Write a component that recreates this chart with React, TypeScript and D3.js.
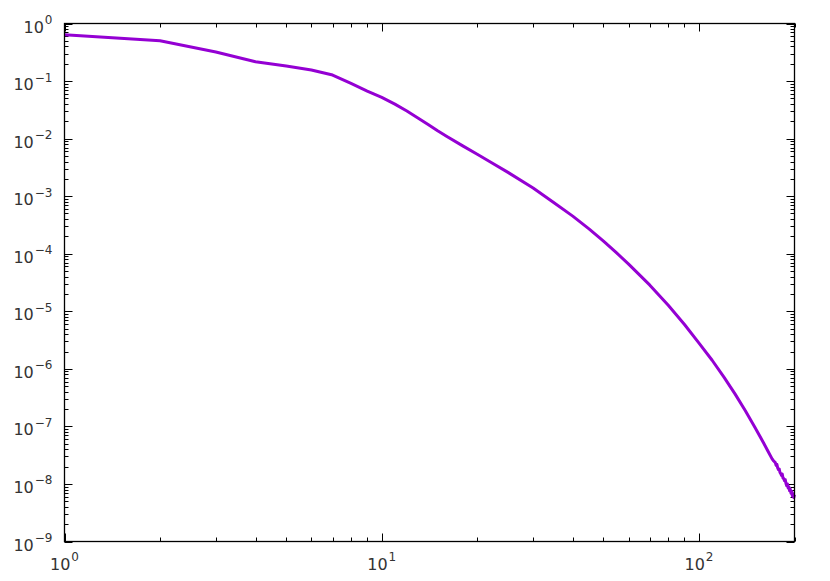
import React, { useEffect, useRef } from 'react';
import * as d3 from 'd3';

// (log-log)
const xValues = [
  1, 2, 3, 4, 5, 6, 7, 8, 9, 10, 11, 12, 13, 14, 15, 16, 18, 20, 22, 25, 30, 35, 40, 45, 50, 55, 60, 70, 80, 90,
  100, 110, 120, 130, 140, 150, 160, 165, 170, 172, 174, 175, 176, 177, 178, 179, 180, 181, 182, 183, 184, 185,
  186, 187, 188, 189, 190, 191, 192, 193, 194, 195, 196, 197, 198, 199, 200,
];
const yValues = [
  0.64, 0.5, 0.32, 0.217, 0.183, 0.156, 0.127, 0.091, 0.067, 0.052, 0.0398, 0.0302, 0.0229, 0.0176, 0.0137,
  0.011, 0.00748, 0.00535, 0.00393, 0.00259, 0.00139, 7.6e-4, 4.5e-4, 2.7e-4, 1.65e-4, 1.03e-4, 6.6e-5, 2.84e-5,
  1.27e-5, 5.9e-6, 2.8e-6, 1.41e-6, 7.1e-7, 3.64e-7, 1.87e-7, 9.7e-8, 5.1e-8, 3.7e-8, 2.73e-8, 2.5e-8, 2.35e-8,
  2.1e-8, 2.2e-8, 1.9e-8, 1.78e-8, 1.82e-8, 1.58e-8, 1.51e-8, 1.41e-8, 1.48e-8, 1.26e-8, 1.24e-8, 1.14e-8, 1.19e-8,
  1.02e-8, 9.3e-9, 1.0e-8, 8.5e-9, 8.9e-9, 7.6e-9, 8.1e-9, 6.9e-9, 7.4e-9, 6.2e-9, 6.8e-9, 5.8e-9, 6.5e-9,
];
const xMajorTicks = [1, 10, 100];
const xTickExponents = ['0', '1', '2'];
const yMajorTicks = [1, 1e-1, 1e-2, 1e-3, 1e-4, 1e-5, 1e-6, 1e-7, 1e-8, 1e-9];
const yTickExponents = ['0', '−1', '−2', '−3', '−4', '−5', '−6', '−7', '−8', '−9'];

const width = 830;
const height = 581;

const App = () => {
  const svgRef = useRef(null);

  useEffect(() => {
    document.body.style.margin = '0';
    const svg = d3.select(svgRef.current);
    svg.selectAll('*').remove();

    const left = 64.5, right = 794.5, top = 23.5, bottom = 541.5;

    const x = d3.scaleLog().domain([1, 200]).range([left, right]);
    const y = d3.scaleLog().domain([1e-9, 1]).range([bottom, top]);

    const font = "'DejaVu Sans', sans-serif";

    // minor ticks 2..9 in every decade
    const xMinor = [];
    [1, 10, 100].forEach(d => { for (let k = 2; k <= 9; k++) if (d * k <= 200) xMinor.push(d * k); });
    const yMinor = [];
    yMajorTicks.slice(1).forEach(d => { for (let k = 2; k <= 9; k++) yMinor.push(d * k); });

    const ticks = svg.append('g').attr('stroke', '#000').attr('stroke-width', 1);
    const xTick = (v, len) => {
      const px = Math.round(x(v)) + 0.5;
      ticks.append('line').attr('x1', px).attr('x2', px).attr('y1', bottom).attr('y2', bottom - len);
      ticks.append('line').attr('x1', px).attr('x2', px).attr('y1', top).attr('y2', top + len);
    };
    const yTick = (v, len) => {
      const py = Math.round(y(v)) + 0.5;
      ticks.append('line').attr('y1', py).attr('y2', py).attr('x1', left).attr('x2', left + len);
      ticks.append('line').attr('y1', py).attr('y2', py).attr('x1', right).attr('x2', right - len);
    };
    xMinor.forEach(v => xTick(v, 4));
    xMajorTicks.forEach(v => xTick(v, 8));
    yMinor.forEach(v => yTick(v, 4));
    yMajorTicks.forEach(v => yTick(v, 8));

    // data line
    const points = xValues.map((d, i) => [d, yValues[i]]);
    const line = d3.line().x(d => x(d[0])).y(d => y(d[1]));
    svg.append('path')
      .datum(points)
      .attr('d', line)
      .attr('fill', 'none')
      .attr('stroke', '#9400d3')
      .attr('stroke-width', 3)
      .attr('stroke-linejoin', 'round');

    // frame
    svg.append('rect')
      .attr('x', left).attr('y', top)
      .attr('width', right - left).attr('height', bottom - top)
      .attr('fill', 'none').attr('stroke', '#000').attr('stroke-width', 1.3);

    // y tick labels
    yMajorTicks.forEach((v, i) => {
      const t = svg.append('text')
        .attr('x', 52.5).attr('y', y(v) + 9)
        .attr('text-anchor', 'end')
        .attr('font-family', font).attr('font-size', 16).attr('fill', '#333');
      t.append('tspan').text('10');
      t.append('tspan').attr('font-size', 12).attr('dy', -8.5).attr('dx', 1).text(yTickExponents[i]);
    });

    // x tick labels
    xMajorTicks.forEach((v, i) => {
      const t = svg.append('text')
        .attr('x', x(v)).attr('y', 570)
        .attr('text-anchor', 'middle')
        .attr('font-family', font).attr('font-size', 16).attr('fill', '#333');
      t.append('tspan').text('10');
      t.append('tspan').attr('font-size', 12).attr('dy', -9).attr('dx', 1).text(xTickExponents[i]);
    });
  }, []);

  return <svg ref={svgRef} width={width} height={height} style={{ display: 'block', background: '#fff' }} />;
};

export default App;
